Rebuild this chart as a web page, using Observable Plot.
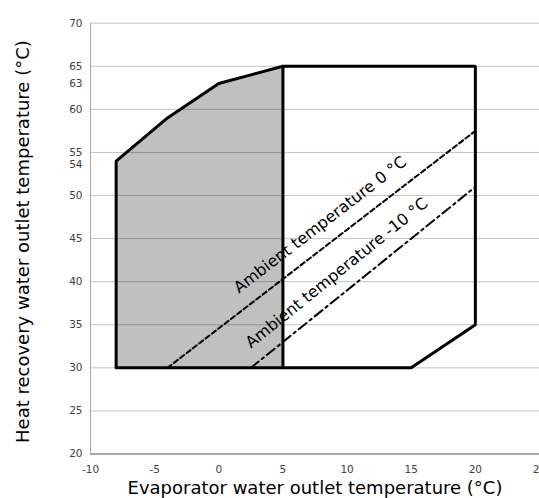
<!DOCTYPE html>
<html>
<head>
<meta charset="utf-8">
<script src="https://cdn.jsdelivr.net/npm/d3@7"></script>
<script src="https://cdn.jsdelivr.net/npm/@observablehq/plot@0.6"></script>
<style>
  html, body { margin: 0; padding: 0; background: #fff; overflow: hidden; }
</style>
</head>
<body>
<div id="chart"></div>
<script>
// ---- data ----
const xTicks = [-10, -5, 0, 5, 10, 15, 20, 25];
const yTicks = [20, 25, 30, 35, 40, 45, 50, 55, 60, 63, 65, 70];
const yTickExtra = [54];
const yGrid = [25, 30, 35, 40, 45, 50, 55, 60, 65, 70];

// operating envelope outline
const envX = [-8, -8, -4, 0, 5, 20, 20, 15, -8];
const envY = [30, 54, 59, 63, 65, 65, 35, 30, 30];

// shaded (grey) part of envelope
const shadeX = [-8, -4, 0, 5];
const shadeTop = [54, 59, 63, 65];
const shadeBottom = 30;

// divider between grey and white zones
const divX = [5, 5];
const divY = [30, 65];

// ambient temperature limit lines
const amb0X = [-4, 20];
const amb0Y = [30, 57.5];
const amb10X = [2.5, 20];
const amb10Y = [30, 51];

// labels
const labelText = ["Ambient temperature 0 °C", "Ambient temperature -10 °C"];
const labelX = [7.9, 9.2];
const labelY = [46.6, 41.0];

const xTitle = "Evaporator water outlet temperature (°C)";
const yTitle = "Heat recovery water outlet temperature (°C)";

// ---- layout ----
const W = 539, H = 498;
const mL = 90, mR = 0, mT = 22.7, mB = 44.5;
const pxX = (W - mL - mR) / 35;   // px per x unit
const pxY = (H - mT - mB) / 50;   // px per y unit
const ang = (sx, sy) => -Math.atan(((sy[1]-sy[0]) * pxY) / ((sx[1]-sx[0]) * pxX)) * 180 / Math.PI;
const angles = [ang(amb0X, amb0Y), ang(amb10X, amb10Y)];

const zip = (xs, ys) => xs.map((x, i) => [x, ys[i]]);
const fmt = d => String(d);

const chart = Plot.plot({
  width: W,
  height: H,
  marginLeft: mL,
  marginRight: mR,
  marginTop: mT,
  marginBottom: mB,
  style: {fontFamily: "DejaVu Sans", fontSize: "10.5px", color: "#404040", background: "#fff", overflow: "visible"},
  x: {domain: [-10, 25]},
  y: {domain: [20, 70]},
  marks: [
    Plot.areaY(zip(shadeX, shadeTop), {x: d => d[0], y1: shadeBottom, y2: d => d[1], fill: "#c0c0c0"}),
    Plot.ruleY(yGrid, {stroke: "#000", strokeOpacity: 0.24, strokeWidth: 1}),
    Plot.ruleY([20], {stroke: "#898989", strokeWidth: 1.5}),
    Plot.ruleX([-10], {stroke: "#a6a6a6", strokeWidth: 1}),
    Plot.axisX({ticks: xTicks, tickFormat: fmt, tickSize: 0, tickPadding: 11.5, label: null, fill: "#404040"}),
    Plot.axisY({ticks: yTicks, tickFormat: fmt, tickSize: 0, tickPadding: 8, label: null, fill: "#404040"}),
    Plot.axisY({ticks: yTickExtra, tickFormat: fmt, tickSize: 0, tickPadding: 8, label: null, fill: "#404040", dy: 4}),
    Plot.line(zip(amb0X, amb0Y), {stroke: "#000", strokeWidth: 2, strokeDasharray: "5,3"}),
    Plot.line(zip(amb10X, amb10Y), {stroke: "#000", strokeWidth: 2, strokeDasharray: "10,4,2.5,4"}),
    Plot.line(zip(divX, divY), {stroke: "#000", strokeWidth: 3}),
    Plot.line(zip(envX, envY), {stroke: "#000", strokeWidth: 3, strokeLinejoin: "miter"}),
    Plot.text([0, 1], {x: i => labelX[i], y: i => labelY[i], text: i => labelText[i], rotate: i => angles[i],
      fontSize: 16, fill: "#000", textAnchor: "middle", lineAnchor: "middle"}),
    Plot.text([xTitle], {text: d => d, frameAnchor: "bottom", dy: 34.5, fontSize: 18, fill: "#000", textAnchor: "middle", lineAnchor: "middle"}),
    Plot.text([yTitle], {text: d => d, frameAnchor: "left", dx: -67, dy: 3, rotate: -90, fontSize: 18, fill: "#000", textAnchor: "middle", lineAnchor: "middle"})
  ]
});
document.getElementById("chart").appendChild(chart);
</script>
</body>
</html>
